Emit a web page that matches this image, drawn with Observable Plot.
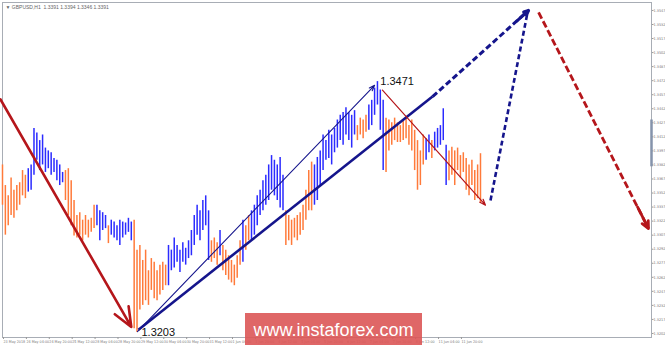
<!DOCTYPE html>
<html><head><meta charset="utf-8">
<script src="https://cdn.jsdelivr.net/npm/d3@7"></script>
<script src="https://cdn.jsdelivr.net/npm/@observablehq/plot@0.6"></script>
<style>html,body{margin:0;padding:0;background:#fff;} #chart{width:665px;height:345px;overflow:hidden;}</style>
</head><body><div id="chart"></div>
<script>
// ---------- DATA ----------
const chartTitle = "▼ GBPUSD,H1  1.3391 1.3394 1.3346 1.3391";
const lastClose = 1.3391;
const watermark = "www.instaforex.com";

const xTickBars = [0,16,32,48,64,80,96,112,128,144,160,176,192,208,224,240,256,272,288,304,320];
const xTickLabels = ["23 May 2018","24 May 04:00","24 May 20:00","25 May 12:00","28 May 04:00","28 May 20:00",
  "29 May 12:00","30 May 04:00","30 May 20:00","31 May 12:00","1 Jun 04:00","1 Jun 20:00","4 Jun 12:00",
  "5 Jun 04:00","5 Jun 20:00","6 Jun 12:00","7 Jun 04:00","7 Jun 20:00","8 Jun 12:00","11 Jun 04:00","11 Jun 20:00"];
const yTicks = [1.3202,1.3217,1.3232,1.3247,1.3262,1.3277,1.3292,1.3307,1.3322,1.3337,1.3352,1.3367,
  1.3382,1.3397,1.3412,1.3427,1.3442,1.3457,1.3472,1.3487,1.3502,1.3517,1.3532,1.3547];

// one entry every 2 hourly bars
const barHigh = [
 1.3382,1.3360,1.3349,1.3368,1.3355,1.3360,1.3363,1.3376,1.3371,1.3378,
 1.3382,1.3421,1.3416,1.3408,1.3414,1.3400,1.3397,1.3395,1.3389,1.3387,
 1.3382,1.3374,1.3376,1.3378,1.3365,1.3344,1.3328,1.3331,1.3323,1.3328,
 1.3323,1.3325,1.3339,1.3339,1.3333,1.3331,1.3328,1.3317,1.3323,1.3321,
 1.3317,1.3323,1.3321,1.3320,1.3325,1.3321,1.3323,1.3291,1.3296,1.3280,
 1.3291,1.3269,1.3282,1.3278,1.3269,1.3275,1.3278,1.3275,1.3296,1.3291,
 1.3304,1.3296,1.3291,1.3299,1.3293,1.3301,1.3312,1.3328,1.3339,1.3333,
 1.3344,1.3349,1.3333,1.3301,1.3304,1.3299,1.3312,1.3296,1.3291,1.3285,
 1.3280,1.3275,1.3285,1.3301,1.3323,1.3317,1.3328,1.3333,1.3339,1.3349,
 1.3355,1.3365,1.3371,1.3382,1.3392,1.3387,1.3382,1.3390,1.3371,1.3333,
 1.3328,1.3323,1.3325,1.3328,1.3331,1.3339,1.3355,1.3376,1.3385,1.3382,
 1.3390,1.3397,1.3414,1.3408,1.3419,1.3414,1.3421,1.3430,1.3435,1.3438,
 1.3443,1.3438,1.3435,1.3440,1.3424,1.3432,1.3430,1.3435,1.3446,1.3451,
 1.3464,1.3471,1.3462,1.3451,1.3432,1.3430,1.3427,1.3432,1.3427,1.3424,
 1.3430,1.3432,1.3424,1.3430,1.3419,1.3408,1.3397,1.3414,1.3410,1.3414,
 1.3408,1.3417,1.3421,1.3424,1.3442,1.3403,1.3397,1.3401,1.3397,1.3400,
 1.3392,1.3395,1.3389,1.3382,1.3387,1.3376,1.3382,1.3394];
const barLow = [
 1.3339,1.3307,1.3317,1.3328,1.3325,1.3333,1.3339,1.3349,1.3346,1.3353,
 1.3355,1.3371,1.3387,1.3376,1.3382,1.3374,1.3378,1.3371,1.3374,1.3365,
 1.3360,1.3363,1.3344,1.3328,1.3317,1.3306,1.3304,1.3307,1.3301,1.3307,
 1.3304,1.3310,1.3314,1.3317,1.3301,1.3312,1.3314,1.3298,1.3307,1.3304,
 1.3301,1.3296,1.3304,1.3307,1.3310,1.3301,1.3207,1.3203,1.3227,1.3232,
 1.3237,1.3232,1.3248,1.3239,1.3237,1.3243,1.3248,1.3253,1.3253,1.3269,
 1.3272,1.3278,1.3267,1.3278,1.3275,1.3282,1.3285,1.3296,1.3307,1.3301,
 1.3312,1.3317,1.3280,1.3278,1.3282,1.3275,1.3285,1.3269,1.3264,1.3259,
 1.3256,1.3253,1.3261,1.3275,1.3278,1.3291,1.3301,1.3301,1.3307,1.3317,
 1.3328,1.3333,1.3339,1.3344,1.3355,1.3349,1.3344,1.3336,1.3333,1.3296,
 1.3301,1.3296,1.3304,1.3301,1.3307,1.3312,1.3323,1.3333,1.3333,1.3339,
 1.3344,1.3360,1.3376,1.3387,1.3389,1.3382,1.3395,1.3400,1.3408,1.3403,
 1.3414,1.3408,1.3400,1.3414,1.3408,1.3414,1.3410,1.3417,1.3419,1.3424,
 1.3435,1.3446,1.3419,1.3376,1.3374,1.3397,1.3403,1.3408,1.3406,1.3406,
 1.3408,1.3410,1.3403,1.3397,1.3376,1.3355,1.3360,1.3382,1.3387,1.3395,
 1.3389,1.3397,1.3400,1.3403,1.3408,1.3360,1.3365,1.3371,1.3360,1.3376,
 1.3368,1.3374,1.3355,1.3349,1.3360,1.3344,1.3346,1.3341];
// o = orange leg, b = blue leg
const barTrend = ("ooooooooo" + "bbbbbbbbbbbbb" + "ooooooooooo" + "bbbb" + "o" + "bbbbbbbb" +
  "oooooooooooo" + "bbbbbbbbbbbbbbb" + "ooo" + "b" + "ooooooo" + "b" + "oo" + "bbbbbbbbbbbb" +
  "oooooooooo" + "bbbbbbbbbbbbbbb" + "oooo" + "bbbbbb" + "oooooooooooooo" + "bb" + "o" + "bbbbb" +
  "oooooooooooo").split("");

// wave annotations: [bar, price]
const redDownLeg   = [[-1.4, 1.3452], [90, 1.3209]];
const thinUpLeg    = [[94.3, 1.3204], [260, 1.3467]];
const thickUpSolid = [[95, 1.3206], [300.5, 1.3455]];
const thickUpDash  = [[300.5, 1.3455], [367.6, 1.3547]];
const redCorrection= [[265.5, 1.3462], [337.5, 1.3339]];
const blueForecast = [[341, 1.3344], [366.9, 1.3545]];
const redForecast  = [[374.6, 1.3545], [451.4, 1.3314]];
const waveLabels = [{bar: 97.1, price: 1.3203, text: "1.3203"}, {bar: 264, price: 1.3471, text: "1.3471"}];
const depthStrip = [1.3380, 1.3430];

// ---------- CHART ----------
const bars = barHigh.map((h, i) => ({bar: i * 2, hi: h, lo: barLow[i], trend: barTrend[i]}));
const seg = s => ({x1: s[0][0], y1: s[0][1], x2: s[1][0], y2: s[1][1]});
const headOf = (s, f) => ({x1: s[1][0] - (s[1][0]-s[0][0])*f, y1: s[1][1] - (s[1][1]-s[0][1])*f, x2: s[1][0], y2: s[1][1]});
const RED = "#b5161b", NAVY = "#15158c";
const TICKFONT = "DejaVu Sans Condensed, Liberation Sans Narrow, Arial, sans-serif";

const svg = Plot.plot({
  width: 665, height: 345,
  marginLeft: 2, marginRight: 14, marginTop: 2, marginBottom: 8,
  style: {fontFamily: "Liberation Sans, Arial, sans-serif", background: "#fff", overflow: "hidden"},
  x: {domain: [0, 453.5], axis: null},
  y: {domain: [1.31977, 1.35555], axis: null},
  color: {domain: ["o", "b"], range: ["#ff7a3a", "#2b2bff"]},
  marks: [
    Plot.frame({stroke: "#a8adb5"}),
    Plot.axisX({ticks: xTickBars, tickFormat: d => xTickLabels[xTickBars.indexOf(d)], fontSize: 3.7, fill: "#777",
      fontFamily: TICKFONT, stroke: "#999", tickSize: 2, tickPadding: 1, textAnchor: "start", dx: 1}),
    Plot.axisY({anchor: "right", ticks: yTicks, tickFormat: d3.format(".4f"), fontSize: 3.8, fill: "#777",
      fontFamily: TICKFONT, stroke: "#999", tickSize: 1.5, tickPadding: 0.5}),
    Plot.ruleX([453.5], {y1: depthStrip[0], y2: depthStrip[1], stroke: "#8593ab", strokeWidth: 2.5}),
    Plot.ruleX(bars, {x: "bar", y1: "lo", y2: "hi", stroke: "trend", strokeWidth: 1.5}),
    // down leg
    Plot.arrow([seg(redDownLeg)], {x1: "x1", y1: "y1", x2: "x2", y2: "y2", stroke: RED, strokeWidth: 2.6, headLength: 12, headAngle: 45}),
    // up legs
    Plot.arrow([seg(thinUpLeg)], {x1: "x1", y1: "y1", x2: "x2", y2: "y2", stroke: NAVY, strokeWidth: 1.1, headLength: 8, headAngle: 40}),
    Plot.link([seg(thickUpSolid)], {x1: "x1", y1: "y1", x2: "x2", y2: "y2", stroke: NAVY, strokeWidth: 2.6}),
    Plot.link([seg(thickUpDash)], {x1: "x1", y1: "y1", x2: "x2", y2: "y2", stroke: NAVY, strokeWidth: 3, strokeDasharray: "6,3"}),
    Plot.link([seg(blueForecast)], {x1: "x1", y1: "y1", x2: "x2", y2: "y2", stroke: NAVY, strokeWidth: 2.6, strokeDasharray: "5,3"}),
    Plot.arrow([headOf(thickUpDash, 0.12)], {x1: "x1", y1: "y1", x2: "x2", y2: "y2", stroke: NAVY, strokeWidth: 3, headLength: 13, headAngle: 50}),
    // correction and forecast down
    Plot.arrow([seg(redCorrection)], {x1: "x1", y1: "y1", x2: "x2", y2: "y2", stroke: RED, strokeWidth: 1.2, headLength: 8, headAngle: 40}),
    Plot.link([seg(redForecast)], {x1: "x1", y1: "y1", x2: "x2", y2: "y2", stroke: RED, strokeWidth: 2.8, strokeDasharray: "7,3"}),
    Plot.arrow([headOf(redForecast, 0.1)], {x1: "x1", y1: "y1", x2: "x2", y2: "y2", stroke: RED, strokeWidth: 2.8, headLength: 13, headAngle: 50}),
    // labels
    Plot.text(waveLabels, {x: "bar", y: "price", text: "text", textAnchor: "start", fontSize: 11, fill: "#111", ariaLabel: "wave-label"}),
    Plot.text([chartTitle], {frameAnchor: "top-left", dx: 3, dy: 3, fontSize: 5, fill: "#666", textAnchor: "start"}),
    Plot.text([lastClose], {frameAnchor: "right", y: d => d, text: d => d3.format(".4f")(d), dx: 2, fontSize: 3.8,
      fontFamily: TICKFONT, fill: "#fff", textAnchor: "start", ariaLabel: "price-tag"})
  ]
});
document.getElementById("chart").appendChild(svg);

// boxes behind text labels
const s = d3.select(svg);
s.selectAll('g[aria-label="wave-label"] text').each(function() {
  const b = this.getBBox();
  d3.select(this.parentNode).insert("rect", () => this)
    .attr("x", b.x - 1).attr("y", b.y).attr("width", b.width + 2).attr("height", b.height)
    .attr("fill", "#fff").attr("stroke", "#8a8a8a").attr("stroke-width", 1);
});
s.selectAll('g[aria-label="price-tag"] text').each(function() {
  const b = this.getBBox();
  d3.select(this.parentNode).insert("rect", () => this)
    .attr("x", b.x - 1).attr("y", b.y - 0.5).attr("width", 13.5).attr("height", b.height + 1)
    .attr("fill", "#6f7f96");
});
// watermark
const wm = s.append("g");
wm.append("rect").attr("x", 245).attr("y", 313).attr("width", 177).attr("height", 32)
  .attr("fill", "#dc5757").attr("fill-opacity", 0.9);
wm.append("text").attr("x", 333.5).attr("y", 336).attr("text-anchor", "middle")
  .attr("font-family", "Liberation Sans, Arial, sans-serif").attr("font-size", 18).attr("fill", "#fff").text(watermark);
</script>
</body></html>
